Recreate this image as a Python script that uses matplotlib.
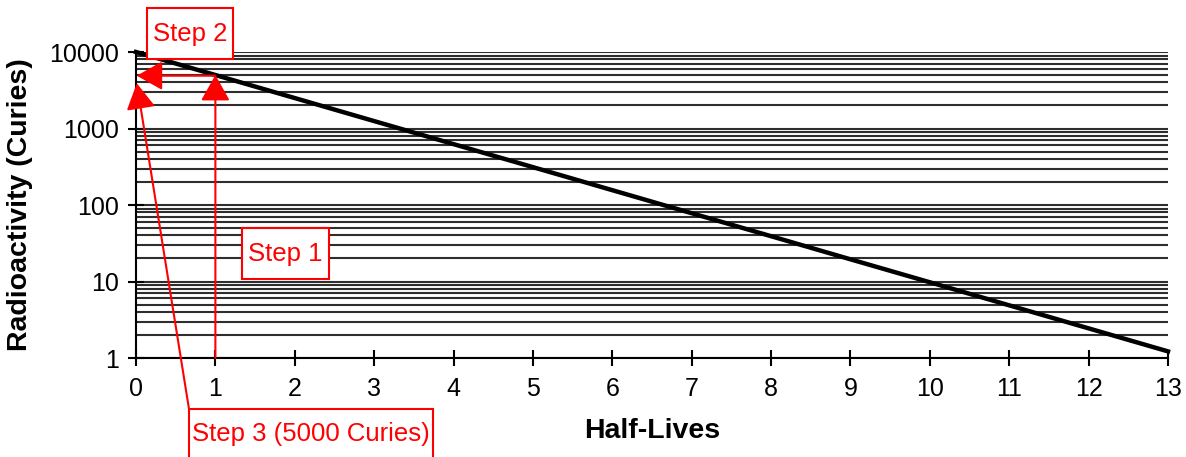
import matplotlib
matplotlib.use("Agg")
import matplotlib.pyplot as plt
from matplotlib.patches import Rectangle
from matplotlib.ticker import FixedLocator, FuncFormatter

plt.rcParams['font.family'] = ['Liberation Sans', 'DejaVu Sans']

# data
half_lives = [0, 1, 2, 3, 4, 5, 6, 7, 8, 9, 10, 11, 12, 13]
activity = [10000, 5000, 2500, 1250, 625, 312.5, 156.25, 78.1, 39.1,
            19.5, 9.77, 4.88, 2.44, 1.22]
y_major = [1, 10, 100, 1000, 10000]
y_minor = [m * 10 ** e for e in range(4) for m in range(2, 10)]

W, H = 1186, 457


def fig_frac(x, y):
    # pixel position (from top-left) -> figure fraction
    return x / W, 1 - y / H


fig = plt.figure(figsize=(W / 100, H / 100), dpi=100)
ax = fig.add_axes([136 / W, 1 - 358 / H, (1168 - 136) / W, (358 - 52) / H])

ax.plot(half_lives, activity, color='black', lw=3.2, zorder=3, clip_on=False)

ax.set_yscale('log')
ax.set_xlim(0, 13)
ax.set_ylim(1, 10000)
ax.set_xticks(half_lives)
ax.yaxis.set_major_locator(FixedLocator(y_major))
ax.yaxis.set_minor_locator(FixedLocator(y_minor))
ax.yaxis.set_major_formatter(FuncFormatter(lambda v, p: f"{v:g}"))
ax.yaxis.set_minor_formatter(FuncFormatter(lambda v, p: ""))

ax.yaxis.grid(True, which='both', color='#2e2e2e', lw=1.5)
ax.set_axisbelow(True)

for s in ['top', 'right']:
    ax.spines[s].set_visible(False)
for s in ['left', 'bottom']:
    ax.spines[s].set_color('black')
    ax.spines[s].set_linewidth(1.5)

ax.tick_params(which='major', direction='inout', length=12, width=1.5,
               labelsize=18, colors='black', pad=6)
ax.tick_params(axis='x', pad=8)
ax.tick_params(which='minor', length=0)

ax.set_xlabel('Half-Lives', fontsize=20.5, fontweight='bold', labelpad=12)
ax.set_ylabel('Radioactivity (Curies)', fontsize=20.5, fontweight='bold', labelpad=12)

red = '#ff0000'
head = dict(arrowstyle='-|>,head_length=0.8,head_width=0.45', mutation_scale=20,
            color=red, lw=1.5, shrinkA=0, shrinkB=0)

# Step 1: up from x=1
ax.annotate('', xy=(1, 5000), xytext=(1, 1), arrowprops=head,
            annotation_clip=False, zorder=5)
# Step 2: left to the axis
ax.annotate('', xy=(0.01, 4900), xytext=(1, 4900), arrowprops=head,
            annotation_clip=False, zorder=5)
# Step 3: from the label box up to the axis
ax.annotate('', xy=(0.01, 3900), xycoords='data',
            xytext=fig_frac(189, 409), textcoords='figure fraction',
            arrowprops=head, annotation_clip=False, zorder=5)

# label boxes (pixel extents)
boxes = [
    ('Step 2', 147, 8, 233, 59),
    ('Step 1', 242, 228, 329, 279),
    ('Step 3 (5000 Curies)', 189, 409, 433, 470),
]
for label, x0, y0, x1, y1 in boxes:
    fx0, fy1 = fig_frac(x0, y1)
    fx1, fy0 = fig_frac(x1, y0)
    fig.add_artist(Rectangle((fx0, fy1), fx1 - fx0, fy0 - fy1,
                             transform=fig.transFigure, facecolor='white',
                             edgecolor=red, lw=1.5, zorder=6, clip_on=False))
    ty = (y0 + min(y1, y0 + 51)) / 2
    tx, tyf = fig_frac((x0 + x1) / 2, ty)
    fig.text(tx, tyf, label, color=red, fontsize=18.5, ha='center', va='center',
             zorder=7)

fig.savefig('out.png', dpi=100)
